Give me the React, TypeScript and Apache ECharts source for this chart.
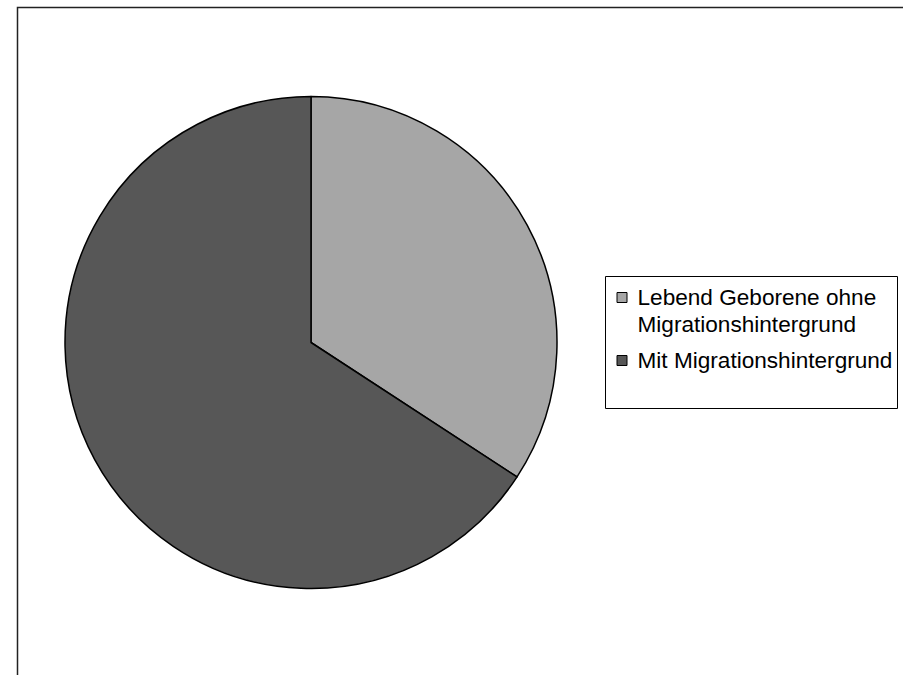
import React, { useEffect, useRef } from "react";
import * as echarts from "echarts";

const categories = [
  "Lebend Geborene ohne Migrationshintergrund",
  "Mit Migrationshintergrund",
];
const legendLabels = [
  "Lebend Geborene ohne\nMigrationshintergrund",
  "Mit Migrationshintergrund",
];
const values = [34.2, 65.8];
const colors = ["#A6A6A6", "#575757"];

export default function App() {
  const ref = useRef<HTMLDivElement>(null);
  useEffect(() => {
    if (!ref.current) return;
    const chart = echarts.init(ref.current, null, { renderer: "svg" });
    const font = "'Liberation Sans', Arial, sans-serif";
    const legendItems: any[] = [];
    const itemTops = [283.5, 346.5];
    legendLabels.forEach((lab, i) => {
      legendItems.push({
        type: "rect",
        shape: { x: 617, y: itemTops[i] + 9, width: 10, height: 10 },
        style: { fill: colors[i], stroke: "#000", lineWidth: 1 },
      });
      legendItems.push({
        type: "text",
        x: 637.5,
        y: itemTops[i],
        style: {
          text: lab,
          fill: "#000",
          fontSize: 22.6,
          fontFamily: font,
          lineHeight: 27,
          verticalAlign: "top",
          align: "left",
        },
      });
    });
    chart.setOption({
      animation: false,
      backgroundColor: "#fff",
      graphic: [
        {
          type: "rect",
          shape: { x: 17.5, y: 7.5, width: 1000, height: 1000 },
          style: { fill: "none", stroke: "#222", lineWidth: 1.5 },
          z: 0,
        },
        {
          type: "rect",
          shape: { x: 605.5, y: 276.5, width: 292, height: 132 },
          style: { fill: "#fff", stroke: "#000", lineWidth: 1 },
          z: 10,
        },
        ...legendItems.map((e) => ({ ...e, z: 11 })),
      ],
      series: [
        {
          type: "pie",
          center: [311, 342.5],
          radius: 246,
          startAngle: 90,
          clockwise: true,
          label: { show: false },
          labelLine: { show: false },
          emphasis: { disabled: true },
          itemStyle: { borderColor: "#000", borderWidth: 1.5 },
          data: categories.map((name, i) => ({
            name,
            value: values[i],
            itemStyle: { color: colors[i] },
          })),
        },
      ],
    });
    return () => chart.dispose();
  }, []);
  return (
    <div
      ref={ref}
      style={{ position: "absolute", left: 0, top: 0, width: 903, height: 675 }}
    />
  );
}
